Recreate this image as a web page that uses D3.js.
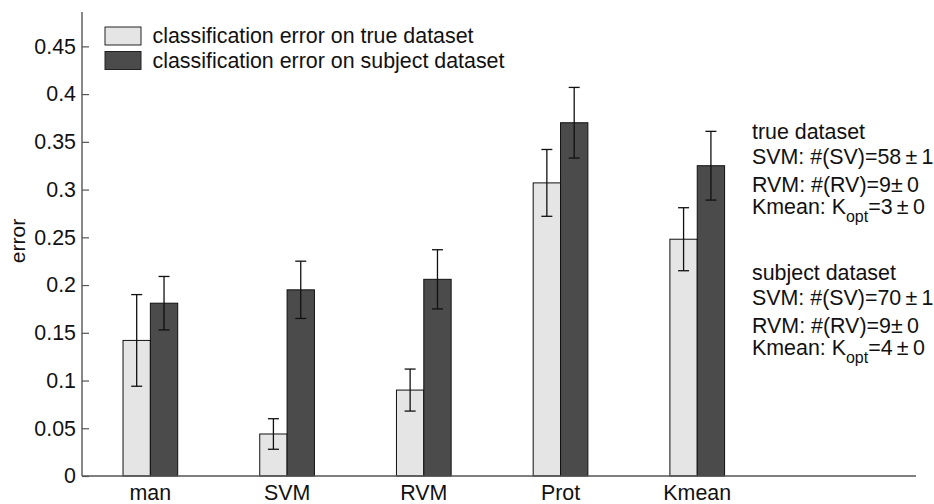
<!DOCTYPE html>
<html>
<head>
<meta charset="utf-8">
<script src="https://cdn.jsdelivr.net/npm/d3@7"></script>
<style>
  html, body { margin: 0; padding: 0; background: #fff; }
  svg { display: block; font-family: "Liberation Sans", Arial, Helvetica, sans-serif; }
</style>
</head>
<body>
<svg id="chart" width="934" height="504"></svg>
<script>
// Methods compared
const categories = ["man", "SVM", "RVM", "Prot", "Kmean"];

// Mean classification error and its spread, per dataset
const trueError     = [0.142, 0.044, 0.090, 0.307, 0.248];
const trueSpread    = [0.048, 0.016, 0.022, 0.035, 0.033];
const subjectError  = [0.181, 0.195, 0.206, 0.370, 0.325];
const subjectSpread = [0.028, 0.030, 0.031, 0.037, 0.036];

const seriesNames = [
  "classification error on true dataset",
  "classification error on subject dataset"
];
const seriesColors = ["#e5e5e5", "#4b4b4b"];

const yTicks = [0, 0.05, 0.1, 0.15, 0.2, 0.25, 0.3, 0.35, 0.4, 0.45];

// Model-size notes printed beside the bars
const trueNotes = [
  { text: "true dataset" },
  { text: "SVM: #(SV)=58\u2009\u00b1\u20091" },
  { text: "RVM: #(RV)=9\u00b1\u20090" },
  { text: "Kmean: K", sub: "opt", post: "=3\u2009\u00b1\u20090" }
];
const subjectNotes = [
  { text: "subject dataset" },
  { text: "SVM: #(SV)=70\u2009\u00b1\u20091" },
  { text: "RVM: #(RV)=9\u00b1\u20090" },
  { text: "Kmean: K", sub: "opt", post: "=4\u2009\u00b1\u20090" }
];

const svg = d3.select("#chart");
const plotLeft = 82, plotRight = 916, plotTop = 12, plotBottom = 476;
const axisColor = "#555";
const fontSize = 21.4;

const x = d3.scaleLinear().domain([0.5, 6.6]).range([plotLeft, plotRight]);
const y = d3.scaleLinear().domain([0, 0.486]).range([plotBottom, plotTop]);
const barW = 0.2;

// Y axis with inward ticks
const yAxis = svg.append("g").attr("transform", `translate(${plotLeft},0)`)
  .call(d3.axisLeft(y).tickValues(yTicks).tickSizeInner(-7).tickSizeOuter(0)
    .tickPadding(6).tickFormat(d => d === 0 ? "0" : String(+d.toFixed(2))));
yAxis.select(".domain").remove();
yAxis.selectAll(".tick line").attr("stroke", axisColor).attr("stroke-width", 1.2);
yAxis.selectAll(".tick text").attr("font-size", fontSize).attr("fill", "#111")
  .attr("font-family", "Liberation Sans, Arial, sans-serif");

svg.append("line").attr("x1", plotLeft).attr("x2", plotLeft).attr("y1", plotTop).attr("y2", plotBottom)
  .attr("stroke", axisColor).attr("stroke-width", 1.4);

// Bars
const series = [
  { values: trueError, spread: trueSpread, offset: -barW, color: seriesColors[0] },
  { values: subjectError, spread: subjectSpread, offset: 0, color: seriesColors[1] }
];

series.forEach(s => {
  svg.append("g").selectAll("rect").data(s.values).join("rect")
    .attr("x", (d, i) => x(i + 1 + s.offset))
    .attr("width", x(barW) - x(0))
    .attr("y", d => y(d))
    .attr("height", d => y(0) - y(d))
    .attr("fill", s.color)
    .attr("stroke", "#111")
    .attr("stroke-width", 1);
});

// Error bars
const capHalf = 5.5;
series.forEach(s => {
  const g = svg.append("g").attr("stroke", "#111").attr("stroke-width", 1.3);
  s.values.forEach((v, i) => {
    const cx = x(i + 1 + s.offset + barW / 2);
    const lo = y(v - s.spread[i]), hi = y(v + s.spread[i]);
    g.append("line").attr("x1", cx).attr("x2", cx).attr("y1", lo).attr("y2", hi);
    g.append("line").attr("x1", cx - capHalf).attr("x2", cx + capHalf).attr("y1", lo).attr("y2", lo);
    g.append("line").attr("x1", cx - capHalf).attr("x2", cx + capHalf).attr("y1", hi).attr("y2", hi);
  });
});

// X axis line drawn over bar bottoms
svg.append("line").attr("x1", plotLeft).attr("x2", plotRight).attr("y1", plotBottom).attr("y2", plotBottom)
  .attr("stroke", axisColor).attr("stroke-width", 1.4);

// Category labels
svg.append("g").selectAll("text").data(categories).join("text")
  .attr("x", (d, i) => x(i + 1))
  .attr("y", 500)
  .attr("text-anchor", "middle")
  .attr("font-size", fontSize)
  .attr("fill", "#111")
  .text(d => d);

// Y axis title
svg.append("text")
  .attr("transform", "translate(25,241) rotate(-90)")
  .attr("text-anchor", "middle")
  .attr("font-size", 21)
  .attr("fill", "#111")
  .text("error");

// Legend
const legend = svg.append("g");
seriesNames.forEach((name, i) => {
  const ly = 27 + i * 24.5;
  legend.append("rect").attr("x", 105).attr("y", ly).attr("width", 36).attr("height", 18)
    .attr("fill", seriesColors[i]).attr("stroke", "#222").attr("stroke-width", 1);
  legend.append("text").attr("x", 152.5).attr("y", ly + 16).attr("font-size", fontSize)
    .attr("fill", "#111").text(name);
});

// Notes
function drawNotes(notes, baselines) {
  notes.forEach((n, i) => {
    const t = svg.append("text").attr("x", 752).attr("y", baselines[i])
      .attr("font-size", fontSize).attr("fill", "#111");
    t.append("tspan").text(n.text);
    if (n.sub) {
      t.append("tspan").attr("dy", 8).attr("font-size", 16).text(n.sub);
      t.append("tspan").attr("dy", -8).text(n.post);
    }
  });
}
drawNotes(trueNotes, [139, 164, 192, 214]);
drawNotes(subjectNotes, [280, 305, 333, 355]);
</script>
</body>
</html>
